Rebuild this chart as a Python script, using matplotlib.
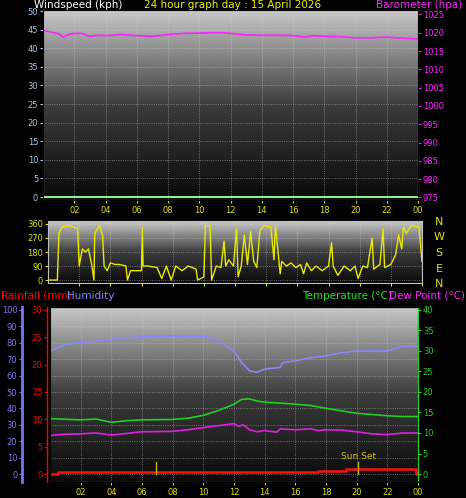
import matplotlib
matplotlib.use("Agg")
import matplotlib.pyplot as plt
import numpy as np
from matplotlib.colors import LinearSegmentedColormap

# ---- data ----
hour_ticks = [2, 4, 6, 8, 10, 12, 14, 16, 18, 20, 22, 24]
hour_labels = ["02", "04", "06", "08", "10", "12", "14", "16", "18", "20", "22", "00"]

baro_t = [0, 0.5, 1, 1.3, 1.7, 2, 2.5, 3, 3.5, 4, 4.5, 5, 6, 7, 8, 9, 10, 11, 11.5, 12, 13, 14, 15, 16, 16.8, 17.2, 18, 19, 20, 21, 22, 23, 24]
baro_p = [1020.6, 1020.2, 1019.7, 1018.8, 1019.6, 1019.8, 1019.8, 1019.0, 1019.3, 1019.2, 1019.3, 1019.5, 1019.2, 1019.0, 1019.5,
          1019.8, 1019.9, 1020.0, 1020.0, 1019.8, 1019.4, 1019.3, 1019.3, 1019.2, 1018.8, 1019.2, 1019.0, 1018.9, 1018.6, 1018.6,
          1018.8, 1018.5, 1018.3]
wind_t = [0, 24]
wind_v = [0, 0]

dir_t = [0.1, 0.6, 0.7, 0.9, 1.4, 1.9, 2.0, 2.2, 2.4, 2.6, 2.8, 2.95, 3.0, 3.3, 3.5, 3.6, 3.8, 4.0, 4.3, 4.6, 5.0, 5.1, 5.3, 6.0,
         6.05, 6.1, 6.4, 7.0, 7.3, 7.6, 7.9, 8.2, 8.6, 9.0, 9.5, 9.6, 10.0, 10.1, 10.4, 10.5, 10.8, 11.1, 11.3, 11.4, 11.6, 11.9,
         12.1, 12.2, 12.4, 12.6, 12.8, 13.0, 13.2, 13.4, 13.6, 13.9, 14.3, 14.5, 14.6, 14.9, 15.0, 15.3, 15.6, 15.9, 16.2, 16.4,
         16.6, 16.9, 17.2, 17.6, 18.0, 18.2, 18.3, 18.6, 19.0, 19.4, 19.7, 19.9, 20.2, 20.5, 20.8, 20.9, 21.3, 21.5, 21.6, 22.0,
         22.3, 22.5, 22.7, 22.8, 23.0, 23.3, 23.8, 24.0]
dir_v = [0, 0, 300, 340, 350, 330, 90, 200, 180, 200, 100, 0, 300, 350, 290, 90, 60, 110, 100, 100, 90, 0, 60, 60,
         340, 90, 90, 80, 10, 90, 0, 90, 60, 90, 70, 0, 20, 350, 350, 0, 90, 80, 250, 90, 130, 90,
         330, 20, 90, 290, 100, 310, 120, 80, 320, 350, 340, 130, 350, 40, 120, 90, 110, 80, 100, 40,
         110, 60, 90, 60, 90, 240, 90, 30, 90, 60, 90, 10, 90, 80, 270, 70, 100, 330, 80, 100,
         160, 290, 200, 340, 300, 350, 340, 120]

hum_t = [0, 1, 2, 3, 4, 5, 6, 7, 8, 9, 10, 10.5, 11, 11.5, 12, 12.5, 13, 13.5, 14, 15, 15.2, 16, 17, 18, 19, 20, 21, 22, 23, 24]
hum_v = [75, 79, 80, 81, 82, 83, 84, 84, 84, 84, 84, 83, 81, 78, 75, 68, 63, 62, 64, 65, 68, 69, 71, 72, 74, 75, 75, 75, 78, 78]

temp_t = [0, 2, 3, 4, 5, 6, 8, 9, 10, 11, 12, 12.5, 13, 13.5, 14, 15, 16, 17, 18, 19, 20, 21, 22, 23, 24]
temp_v = [13.5, 13.2, 13.4, 12.6, 13.0, 13.2, 13.3, 13.6, 14.3, 15.5, 17.0, 18.2, 18.3, 17.8, 17.5, 17.3, 17.0, 16.7, 16.0, 15.4,
          14.8, 14.5, 14.2, 14.0, 14.0]

dew_t = [0, 1, 2, 3, 4, 5, 6, 8, 9, 10, 11, 12, 12.3, 12.6, 13, 13.5, 14, 14.8, 15, 16, 17, 17.5, 18, 19, 20, 21, 22, 23, 24]
dew_v = [9.4, 9.7, 9.8, 10.0, 9.5, 9.9, 10.3, 10.4, 10.8, 11.3, 11.8, 12.3, 11.6, 12.0, 10.8, 10.3, 10.6, 10.2, 11.0, 10.8, 11.0,
         10.6, 10.8, 10.7, 10.3, 9.8, 9.6, 10.0, 10.0]

rain_t = [0, 0.5, 17.5, 19.3, 23.9, 24]
rain_v = [0, 0.3, 0.6, 1.0, 0.0, 0.0]

sun_events = [6.9, 20.1]

W, H = 466, 498
fig = plt.figure(figsize=(W / 100, H / 100), dpi=100, facecolor="black")
cmap = LinearSegmentedColormap.from_list("bg", ["#0a0a0a", "#3c3c3c", "#c8c8c8"])
FS = 6


def make_ax(l, t, r, b, xlabels=True):
    ax = fig.add_axes([l / W, 1 - b / H, (r - l) / W, (b - t) / H])
    ax.set_facecolor("black")
    ax.imshow(np.linspace(1, 0, 200).reshape(-1, 1), aspect="auto", cmap=cmap,
              extent=[0, 1, 0, 1], transform=ax.transAxes, zorder=0)
    ax.set_xlim(0, 24)
    ax.set_xticks(hour_ticks)
    ax.set_xticklabels(hour_labels if xlabels else [])
    ax.tick_params(axis="x", colors="#e0e000", labelsize=FS, length=2, pad=2)
    ax.grid(True, color="#d0d0d0", linestyle=":", linewidth=0.6, alpha=0.6)
    for s in ax.spines.values():
        s.set_color("#c0c0c0")
    return ax


def smallfont(ax, axis, color):
    ax.tick_params(axis=axis, colors=color, labelsize=FS, length=2, pad=1.5)


# --- top ---
ax1 = make_ax(43, 10, 418, 200)
ax1.set_ylim(-0.8, 50.27)
ax1.set_yticks(range(0, 51, 5))
smallfont(ax1, "y", "#a8c8e8")
ax1.plot(wind_t, wind_v, color="#90ee90", lw=1.5, zorder=3)
ax1b = ax1.twinx()
ax1b.set_ylim(974.3, 1026.2)
ax1b.set_yticks(range(975, 1026, 5))
smallfont(ax1b, "y", "#ff20ff")
ax1b.plot(baro_t, baro_p, color="#ff20ff", lw=1.2)
fig.text(34 / W, 1 - 5 / H, "Windspeed (kph)", color="white", fontsize=7.5, va="center")
fig.text(233 / W, 1 - 5 / H, "24 hour graph day : 15 April 2026", color="#f0f000", fontsize=7.5, va="center", ha="center")
fig.text(462 / W, 1 - 5 / H, "Barometer (hpa)", color="#ff20ff", fontsize=7.5, va="center", ha="right")

# --- middle ---
ax2 = make_ax(48, 221, 422, 283, xlabels=False)
ax2.set_ylim(-19, 379)
ax2.set_yticks([0, 90, 180, 270, 360])
smallfont(ax2, "y", "#e0e000")
ax2.plot(dir_t, dir_v, color="#e8e800", lw=1.0, zorder=3)
for i, lab in enumerate(["N", "W", "S", "E", "N"]):
    fig.text(439 / W, 1 - (222 + i * 15.5) / H, lab, color="#e0e000", fontsize=8, ha="center", va="center")

# --- bottom ---
ax3 = make_ax(50, 307, 418, 482)
ax3.set_ylim(-4.8, 101.8)
ax3.set_yticks(range(0, 101, 10))
smallfont(ax3, "y", "#7878f0")
ax3.spines["left"].set_position(("outward", 20))
ax3.spines["left"].set_color("#7878f0")
ax3.spines["left"].set_linewidth(2)
ax3.plot(hum_t, hum_v, color="#8888f8", lw=1.2, zorder=3)
axr = ax3.twinx()
axr.yaxis.tick_left()
axr.spines["left"].set_position(("outward", 2))
axr.spines["left"].set_color("red")
axr.spines["left"].set_linewidth(1.0)
axr.set_ylim(-1.45, 30.5)
axr.set_yticks(range(0, 31, 5))
smallfont(axr, "y", "red")
axr.step(rain_t, rain_v, where="post", color="#ff1010", lw=1.8)
axt = ax3.twinx()
axt.set_ylim(-1.94, 40.7)
axt.set_yticks(range(0, 41, 5))
smallfont(axt, "y", "#20d020")
axt.spines["right"].set_color("#20d020")
axt.plot(temp_t, temp_v, color="#20d020", lw=1.2)
axt.plot(dew_t, dew_v, color="#e020e0", lw=1.2)
for s in sun_events:
    axt.plot([s, s], [0, 3], color="#c8b400", lw=1)
axt.text(sun_events[1], 3.6, "Sun Set", color="#d0c000", fontsize=6.5, ha="center")

fig.text(1 / W, 1 - 296 / H, "Rainfall (mm)", color="red", fontsize=7.5, va="center")
fig.text(67 / W, 1 - 296 / H, "Humidity", color="#8888f8", fontsize=7.5, va="center")
fig.text(392 / W, 1 - 296 / H, "Temperature (°C)", color="#20e020", fontsize=7.5, va="center", ha="right")
fig.text(465 / W, 1 - 296 / H, "Dew Point (°C)", color="#ff20ff", fontsize=7.5, va="center", ha="right")

fig.savefig("out.png", dpi=100, facecolor="black")
